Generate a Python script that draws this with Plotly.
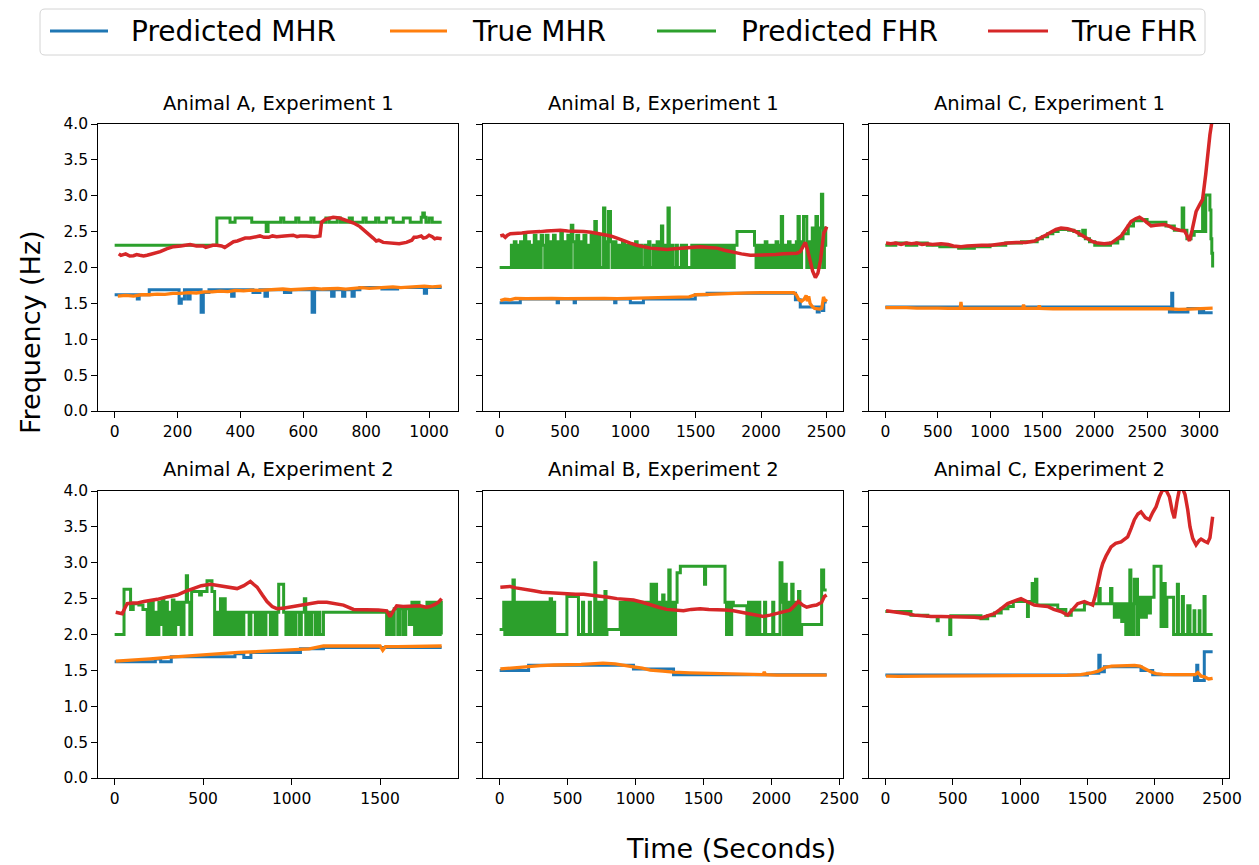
import plotly.graph_objects as go

# ---------------- DATA (time in seconds, frequency in Hz) ----------------
SERIES_NAMES = ["Predicted MHR", "True MHR", "Predicted FHR", "True FHR"]
COLORS = ["#1f77b4", "#ff7f0e", "#2ca02c", "#d62728"]
TITLES = ["Animal A, Experiment 1", "Animal B, Experiment 1", "Animal C, Experiment 1",
          "Animal A, Experiment 2", "Animal B, Experiment 2", "Animal C, Experiment 2"]
Y_TICKS = [0.0, 0.5, 1.0, 1.5, 2.0, 2.5, 3.0, 3.5, 4.0]
X_TICKS = [[0, 200, 400, 600, 800, 1000],
           [0, 500, 1000, 1500, 2000, 2500],
           [0, 500, 1000, 1500, 2000, 2500, 3000],
           [0, 500, 1000, 1500],
           [0, 500, 1000, 1500, 2000, 2500],
           [0, 500, 1000, 1500, 2000, 2500]]

# ---- Animal A, Experiment 1 ----
A1_PRED_MHR = [(0,1.62),(72,1.56),(78,1.62),(110,1.69),(205,1.50),(212,1.56),(222,1.69),(232,1.56),(240,1.69),
               (275,1.375),(282,1.65),(300,1.69),(372,1.60),(380,1.69),(440,1.65),(462,1.69),(478,1.60),(486,1.69),
               (540,1.65),(560,1.69),(628,1.375),(636,1.69),(690,1.60),(698,1.69),(725,1.60),(732,1.69),(755,1.60),
               (762,1.69),(780,1.72),(850,1.70),(900,1.72),(985,1.64),(992,1.72),(1040,1.72)]
A1_TRUE_MHR = [(10,1.60),(35,1.61),(60,1.60),(85,1.62),(110,1.62),(135,1.63),(160,1.625),(185,1.64),(210,1.64),
               (235,1.65),(260,1.645),(285,1.66),(310,1.66),(335,1.67),(360,1.665),(385,1.68),(410,1.675),
               (435,1.685),(460,1.68),(485,1.69),(510,1.69),(535,1.70),(560,1.69),(585,1.70),(610,1.70),
               (635,1.71),(660,1.70),(685,1.71),(710,1.71),(735,1.70),(760,1.71),(785,1.72),(810,1.71),
               (835,1.72),(860,1.72),(885,1.73),(910,1.72),(935,1.73),(960,1.73),(985,1.74),(1010,1.73),(1040,1.74)]
A1_PRED_FHR = [(0,2.31),(325,2.69),(367,2.63),(383,2.69),(436,2.63),(482,2.50),(488,2.63),(528,2.69),(538,2.63),
               (576,2.69),(586,2.63),(624,2.69),(634,2.63),(672,2.69),(682,2.63),(708,2.69),(718,2.63),(746,2.69),
               (756,2.63),(790,2.69),(800,2.63),(830,2.69),(840,2.63),(864,2.69),(886,2.63),(918,2.69),(940,2.63),
               (975,2.70),(980,2.76),(985,2.70),(990,2.63),(1000,2.69),(1010,2.63),(1040,2.63)]
A1_TRUE_FHR = [(13,2.19),(20,2.17),(35,2.19),(48,2.16),(60,2.165),(70,2.18),(80,2.17),(92,2.16),(103,2.17),
               (125,2.19),(145,2.22),(165,2.26),(187,2.29),(210,2.30),(240,2.32),(260,2.30),(282,2.30),(290,2.28),
               (300,2.29),(312,2.31),(325,2.31),(340,2.30),(350,2.28),(357,2.30),(370,2.33),(378,2.36),(390,2.37),
               (404,2.39),(415,2.41),(430,2.41),(445,2.42),(462,2.44),(475,2.42),(490,2.42),(502,2.44),(515,2.43),
               (540,2.44),(568,2.45),(580,2.43),(590,2.44),(610,2.44),(635,2.43),(653,2.44),(658,2.63),(670,2.67),
               (695,2.70),(715,2.69),(737,2.66),(760,2.62),(780,2.57),(800,2.50),(812,2.45),(822,2.41),(832,2.37),
               (840,2.38),(854,2.35),(870,2.34),(886,2.33),(905,2.33),(928,2.35),(945,2.38),(952,2.42),(960,2.42),
               (975,2.44),(982,2.41),(991,2.42),(1000,2.45),(1010,2.43),(1018,2.40),(1025,2.41),(1040,2.40)]

# ---- Animal B, Experiment 1 ----
B1_PRED_MHR = [(0,1.51),(158,1.56),(440,1.51),(450,1.56),(570,1.51),(580,1.56),(880,1.51),(890,1.56),(1000,1.51),
               (1100,1.56),(1497,1.62),(1587,1.64),(2263,1.55),(2300,1.45),(2430,1.38),(2445,1.45),(2470,1.40),
               (2480,1.52),(2502,1.52)]
B1_TRUE_MHR = [(5,1.54),(40,1.56),(80,1.55),(120,1.57),(200,1.565),(300,1.57),(400,1.57),(500,1.565),(600,1.57),
               (700,1.57),(800,1.57),(900,1.565),(1000,1.57),(1100,1.57),(1200,1.575),(1300,1.575),(1400,1.58),
               (1450,1.59),(1480,1.61),(1500,1.62),(1600,1.625),(1700,1.635),(1800,1.64),(1900,1.645),(2000,1.65),
               (2100,1.655),(2200,1.65),(2250,1.65),(2270,1.62),(2290,1.55),(2310,1.53),(2330,1.56),(2345,1.61),
               (2355,1.53),(2365,1.60),(2375,1.50),(2390,1.46),(2410,1.43),(2430,1.42),(2450,1.42),(2465,1.43),
               (2478,1.59),(2490,1.53),(2502,1.56)]
B1_PRED_FHR = [(0,2.0),(90,2.31),(100,2.0),(112,2.36),(125,2.0),(135,2.31),(150,2.0),(160,2.36),(175,2.0),(190,2.45),
               (200,2.0),(215,2.36),(228,2.0),(240,2.31),(255,2.0),(265,2.45),(278,2.0),(290,2.36),(305,2.0),
               (318,2.45),(330,2.31),(345,2.0),(358,2.45),(370,2.0),(385,2.36),(400,2.0),(412,2.45),(425,2.0),
               (440,2.36),(455,2.0),(468,2.50),(480,2.0),(495,2.36),(510,2.0),(522,2.45),(535,2.0),(548,2.59),
               (560,2.36),(575,2.0),(590,2.45),(605,2.0),(618,2.36),(632,2.0),(645,2.45),(660,2.0),(672,2.31),
               (688,2.0),(700,2.45),(712,2.0),(728,2.64),(740,2.0),(755,2.45),(768,2.0),(795,2.83),(805,2.36),
               (818,2.0),(832,2.78),(848,2.36),(860,2.0),(875,2.36),(890,2.0),(905,2.31),(920,2.0),(940,2.36),
               (955,2.0),(975,2.31),(990,2.0),(1005,2.31),(1020,2.0),(1040,2.36),(1052,2.0),(1075,2.31),(1085,2.0),
               (1110,2.31),(1120,2.0),(1140,2.36),(1150,2.0),(1175,2.31),(1185,2.0),(1205,2.36),(1215,2.0),
               (1238,2.58),(1248,2.0),(1262,2.31),(1272,2.0),(1288,2.83),(1298,2.0),(1315,2.31),(1325,2.0),
               (1350,2.31),(1360,2.0),(1390,2.31),(1400,2.0),(1420,2.31),(1430,2.0),(1470,2.31),(1480,2.0),
               (1495,2.31),(1508,2.0),(1520,2.31),(1535,2.0),(1548,2.31),(1560,2.0),(1575,2.31),(1590,2.0),
               (1602,2.31),(1615,2.0),(1630,2.31),(1645,2.0),(1658,2.31),(1672,2.0),(1685,2.31),(1700,2.0),
               (1712,2.31),(1728,2.0),(1742,2.31),(1755,2.0),(1768,2.31),(1782,2.0),(1795,2.31),(1816,2.50),
               (1950,2.31),(1962,2.0),(1975,2.31),(1990,2.0),(2005,2.31),(2018,2.0),(2032,2.36),(2045,2.0),
               (2060,2.31),(2072,2.0),(2088,2.31),(2100,2.0),(2115,2.36),(2128,2.0),(2142,2.31),(2155,2.71),
               (2165,2.0),(2180,2.31),(2195,2.0),(2210,2.36),(2222,2.0),(2240,2.31),(2255,2.0),(2270,2.36),
               (2283,2.71),(2293,2.0),(2310,2.36),(2325,2.71),(2350,2.0),(2365,2.36),(2378,2.0),(2392,2.55),
               (2405,2.0),(2420,2.71),(2432,2.0),(2448,2.55),(2462,3.02),(2472,2.0),(2485,2.31),(2495,2.55),
               (2502,2.55)]
B1_TRUE_FHR = [(5,2.44),(25,2.45),(43,2.42),(60,2.45),(82,2.47),(120,2.47),(170,2.48),(215,2.49),(260,2.49),
               (310,2.50),(360,2.51),(410,2.52),(464,2.52),(520,2.51),(580,2.51),(643,2.50),(700,2.49),(760,2.47),
               (796,2.46),(850,2.44),(898,2.41),(950,2.37),(1000,2.34),(1050,2.31),(1100,2.29),(1153,2.27),
               (1210,2.26),(1281,2.25),(1340,2.26),(1408,2.27),(1470,2.28),(1536,2.29),(1600,2.28),(1663,2.27),
               (1720,2.24),(1791,2.21),(1850,2.19),(1918,2.17),(1980,2.17),(2046,2.17),(2110,2.18),(2173,2.19),
               (2230,2.19),(2275,2.20),(2300,2.22),(2322,2.30),(2339,2.35),(2355,2.25),(2375,2.10),(2395,1.95),
               (2416,1.86),(2435,1.92),(2455,2.10),(2470,2.30),(2480,2.48),(2492,2.52),(2502,2.57)]

# ---- Animal C, Experiment 1 ----
C1_PRED_MHR = [(0,1.45),(2713,1.38),(2735,1.64),(2745,1.38),(2890,1.43),(3000,1.37),(3020,1.43),(3040,1.37),(3126,1.37)]
C1_TRUE_MHR = [(0,1.44),(100,1.445),(200,1.44),(300,1.435),(400,1.44),(500,1.435),(600,1.43),(715,1.43),(722,1.52),
               (730,1.43),(800,1.43),(1000,1.425),(1250,1.43),(1310,1.43),(1320,1.48),(1330,1.43),(1460,1.43),
               (1470,1.47),(1480,1.43),(1600,1.425),(2000,1.43),(2500,1.425),(2700,1.425),(2800,1.415),(2900,1.42),
               (3000,1.425),(3126,1.435)]
C1_PRED_FHR = [(0,2.31),(100,2.34),(200,2.31),(300,2.34),(400,2.31),(520,2.29),(700,2.27),(850,2.29),(1000,2.31),
               (1150,2.34),(1300,2.36),(1450,2.40),(1500,2.43),(1550,2.47),(1600,2.50),(1650,2.53),(1750,2.52),
               (1800,2.50),(1850,2.45),(1885,2.52),(1910,2.40),(1950,2.36),(2000,2.31),(2150,2.34),(2220,2.40),
               (2270,2.47),(2320,2.58),(2370,2.65),(2450,2.67),(2500,2.63),(2600,2.63),(2680,2.58),(2760,2.52),
               (2835,2.83),(2850,2.52),(2880,2.40),(2920,2.45),(2950,2.50),(3030,2.96),(3045,2.50),(3060,3.01),
               (3100,2.80),(3110,2.40),(3118,2.20),(3126,2.00)]
C1_TRUE_FHR = [(6,2.34),(50,2.33),(100,2.34),(150,2.32),(200,2.34),(250,2.33),(300,2.34),(350,2.32),(400,2.33),
               (450,2.32),(532,2.33),(600,2.32),(650,2.30),(723,2.29),(780,2.30),(850,2.31),(920,2.31),(1010,2.31),
               (1100,2.33),(1169,2.34),(1250,2.35),(1340,2.35),(1424,2.37),(1470,2.40),(1519,2.44),(1580,2.49),
               (1630,2.53),(1678,2.55),(1740,2.54),(1806,2.51),(1870,2.45),(1933,2.40),(1980,2.36),(2029,2.34),
               (2090,2.33),(2156,2.34),(2200,2.38),(2252,2.44),(2300,2.54),(2347,2.64),(2390,2.68),(2427,2.70),
               (2470,2.66),(2510,2.61),(2538,2.58),(2580,2.59),(2620,2.60),(2666,2.60),(2720,2.57),(2761,2.54),
               (2810,2.52),(2857,2.51),(2880,2.45),(2905,2.37),(2930,2.52),(2968,2.78),(3000,2.87),(3030,2.95),
               (3060,3.30),(3080,3.60),(3100,3.85),(3126,4.10)]

# ---- Animal A, Experiment 2 ----
A2_PRED_MHR = [(0,1.62),(230,1.66),(260,1.62),(320,1.69),(680,1.73),(730,1.68),(770,1.75),(1050,1.80),(1180,1.82),(1848,1.82)]
A2_TRUE_MHR = [(6,1.63),(100,1.64),(200,1.66),(300,1.68),(400,1.70),(500,1.71),(600,1.73),(700,1.75),(800,1.76),
               (900,1.77),(1000,1.78),(1100,1.80),(1180,1.84),(1300,1.84),(1400,1.84),(1500,1.84),(1515,1.78),
               (1530,1.83),(1600,1.83),(1700,1.83),(1800,1.84),(1848,1.84)]
A2_PRED_FHR = [(0,2.0),(53,2.63),(90,2.35),(105,2.43),(137,2.41),(160,2.35),(184,2.0),(192,2.45),(200,2.0),(210,2.45),
               (218,2.0),(228,2.31),(240,2.0),(250,2.45),(259,2.14),(268,2.50),(278,2.0),(290,2.45),(298,2.0),
               (308,2.31),(316,2.0),(326,2.48),(335,2.0),(345,2.45),(356,2.14),(366,2.45),(376,2.0),(392,2.45),
               (405,2.82),(412,2.45),(425,2.0),(435,2.6),(480,2.55),(490,2.6),(522,2.75),(550,2.6),(565,2.0),
               (575,2.31),(585,2.0),(598,2.5),(606,2.0),(615,2.5),(625,2.0),(635,2.31),(648,2.0),(658,2.31),
               (670,2.0),(680,2.31),(695,2.0),(705,2.31),(720,2.0),(730,2.31),(760,2.0),(770,2.31),(795,2.0),
               (805,2.31),(820,2.0),(830,2.31),(845,2.0),(855,2.31),(880,2.0),(892,2.31),(905,2.0),(917,2.31),
               (927,2.70),(955,2.31),(968,2.0),(978,2.31),(990,2.0),(1000,2.31),(1015,2.0),(1025,2.31),(1045,2.0),
               (1055,2.31),(1072,2.5),(1080,2.0),(1090,2.31),(1105,2.0),(1115,2.31),(1135,2.0),(1145,2.31),
               (1160,2.0),(1180,2.31),(1537,2.0),(1550,2.31),(1565,2.0),(1580,2.36),(1600,2.0),(1612,2.36),
               (1630,2.0),(1645,2.36),(1665,2.14),(1680,2.45),(1695,2.0),(1708,2.45),(1720,2.0),(1735,2.36),
               (1752,2.0),(1765,2.45),(1780,2.0),(1792,2.45),(1805,2.0),(1815,2.45),(1828,2.0),(1840,2.45),
               (1846,2.0),(1848,2.0)]
A2_TRUE_FHR = [(6,2.31),(25,2.30),(43,2.29),(60,2.38),(71,2.43),(100,2.44),(130,2.44),(165,2.46),(200,2.47),
               (241,2.49),(290,2.52),(353,2.55),(400,2.60),(447,2.64),(490,2.68),(541,2.70),(590,2.68),(635,2.67),
               (692,2.64),(730,2.68),(767,2.74),(785,2.70),(805,2.66),(835,2.55),(861,2.46),(890,2.39),(917,2.36),
               (960,2.37),(1011,2.39),(1060,2.41),(1105,2.43),(1150,2.45),(1199,2.45),(1250,2.43),(1293,2.41),
               (1350,2.35),(1400,2.35),(1444,2.35),(1490,2.34),(1538,2.33),(1556,2.25),(1575,2.33),(1594,2.40),
               (1630,2.39),(1669,2.39),(1700,2.40),(1726,2.40),(1760,2.38),(1782,2.39),(1810,2.42),(1830,2.45),
               (1848,2.50)]

# ---- Animal B, Experiment 2 ----
B2_PRED_MHR = [(0,1.50),(213,1.57),(985,1.52),(1280,1.44),(2407,1.44)]
B2_TRUE_MHR = [(5,1.52),(60,1.53),(130,1.54),(213,1.55),(300,1.565),(400,1.575),(495,1.575),(600,1.585),
               (700,1.595),(760,1.60),(850,1.59),(935,1.57),(985,1.55),(1050,1.53),(1108,1.505),(1200,1.49),
               (1280,1.475),(1400,1.465),(1500,1.46),(1600,1.46),(1700,1.455),(1800,1.45),(1900,1.445),
               (1940,1.44),(1948,1.48),(1956,1.44),(2039,1.435),(2150,1.435),(2250,1.435),(2407,1.435)]
B2_PRED_FHR = [(0,2.07),(30,2.45),(38,2.0),(48,2.45),(56,2.0),(68,2.45),(78,2.0),(98,2.76),(108,2.0),(118,2.45),
               (128,2.0),(140,2.45),(150,2.0),(165,2.45),(175,2.0),(190,2.45),(200,2.0),(212,2.45),(222,2.0),
               (240,2.45),(250,2.0),(262,2.45),(272,2.0),(290,2.45),(300,2.0),(315,2.45),(325,2.0),(345,2.45),
               (355,2.0),(372,2.50),(382,2.0),(395,2.45),(405,2.0),(495,2.53),(580,2.0),(610,2.45),(618,2.0),
               (660,2.45),(668,2.0),(700,3.0),(708,2.0),(720,2.45),(730,2.0),(745,2.45),(755,2.0),(775,2.6),
               (783,2.0),(790,2.07),(887,2.45),(897,2.0),(910,2.45),(920,2.0),(932,2.45),(942,2.0),(955,2.45),
               (965,2.0),(978,2.45),(988,2.0),(1000,2.45),(1010,2.0),(1022,2.45),(1032,2.0),(1045,2.45),(1055,2.0),
               (1068,2.45),(1078,2.0),(1090,2.45),(1100,2.0),(1115,2.70),(1125,2.0),(1145,2.70),(1155,2.0),
               (1170,2.45),(1180,2.0),(1200,2.55),(1210,2.0),(1225,2.45),(1235,2.0),(1245,2.90),(1255,2.0),
               (1270,2.45),(1280,2.0),(1295,2.45),(1306,2.86),(1330,2.95),(1508,2.70),(1516,2.95),(1659,2.45),
               (1670,2.0),(1684,2.45),(1694,2.0),(1708,2.45),(1720,2.40),(1820,2.0),(1832,2.45),(1842,2.0),
               (1856,2.45),(1866,2.0),(1880,2.45),(1890,2.0),(1905,2.45),(1915,2.0),(1950,2.45),(1958,2.0),
               (2010,2.45),(2018,2.0),(2064,3.0),(2078,2.45),(2090,2.0),(2100,2.70),(2110,2.0),(2125,2.45),
               (2135,2.0),(2150,2.70),(2160,2.0),(2175,2.45),(2185,2.0),(2200,2.60),(2210,2.0),(2223,2.14),
               (2370,2.9),(2385,2.62),(2407,2.62)]
B2_TRUE_FHR = [(5,2.66),(40,2.66),(78,2.67),(120,2.65),(170,2.63),(250,2.61),(310,2.59),(373,2.58),(430,2.57),
               (495,2.57),(560,2.56),(618,2.56),(680,2.55),(740,2.54),(800,2.52),(863,2.50),(920,2.49),(985,2.48),
               (1050,2.45),(1108,2.41),(1170,2.38),(1230,2.35),(1290,2.34),(1353,2.33),(1410,2.35),(1476,2.36),
               (1540,2.35),(1598,2.35),(1660,2.34),(1721,2.33),(1780,2.31),(1843,2.29),(1900,2.26),(1941,2.25),
               (1990,2.27),(2039,2.29),(2090,2.31),(2137,2.34),(2170,2.40),(2199,2.46),(2230,2.41),(2260,2.38),
               (2300,2.40),(2333,2.41),(2370,2.45),(2390,2.53),(2407,2.55)]

# ---- Animal C, Experiment 2 ----
C2_PRED_MHR = [(0,1.435),(1500,1.46),(1585,1.71),(1595,1.48),(1626,1.55),(1898,1.50),(1985,1.44),(2295,1.36),
               (2312,1.57),(2320,1.36),(2368,1.76),(2430,1.76)]
C2_TRUE_MHR = [(5,1.42),(100,1.415),(300,1.42),(600,1.42),(900,1.42),(1200,1.425),(1350,1.43),(1450,1.44),
               (1520,1.46),(1580,1.49),(1630,1.54),(1680,1.56),(1740,1.565),(1800,1.56),(1850,1.57),(1890,1.56),
               (1930,1.52),(1970,1.48),(2010,1.455),(2060,1.445),(2150,1.44),(2250,1.435),(2300,1.44),(2320,1.47),
               (2345,1.42),(2370,1.41),(2400,1.38),(2430,1.39)]
C2_PRED_FHR = [(0,2.32),(190,2.27),(315,2.25),(385,2.19),(392,2.25),(478,2.0),(486,2.26),(710,2.22),(760,2.26),
               (810,2.30),(860,2.36),(910,2.39),(950,2.46),(1055,2.25),(1062,2.46),(1090,2.71),(1100,2.46),
               (1115,2.77),(1125,2.41),(1280,2.35),(1340,2.27),(1380,2.34),(1478,2.43),(1585,2.64),(1595,2.43),
               (1672,2.64),(1682,2.43),(1700,2.24),(1710,2.43),(1730,2.24),(1740,2.43),(1755,2.18),(1765,2.43),
               (1785,2.0),(1792,2.43),(1800,2.0),(1808,2.43),(1815,2.90),(1823,2.0),(1832,2.43),(1840,2.0),
               (1848,2.77),(1856,2.43),(1865,2.77),(1872,2.0),(1880,2.52),(1900,2.24),(1908,2.52),(1930,2.24),
               (1938,2.52),(1960,2.30),(1968,2.52),(1995,2.95),(2047,2.11),(2060,2.71),(2078,2.11),(2090,2.52),
               (2110,2.52),(2140,2.0),(2168,2.70),(2176,2.0),(2205,2.53),(2213,2.0),(2245,2.40),(2262,2.0),
               (2292,2.33),(2298,2.0),(2330,2.33),(2336,2.0),(2366,2.53),(2374,2.0),(2430,2.0)]
C2_TRUE_FHR = [(5,2.33),(60,2.32),(120,2.30),(166,2.29),(215,2.27),(265,2.26),(340,2.25),(413,2.25),(500,2.25),
               (611,2.25),(660,2.24),(710,2.23),(760,2.26),(809,2.29),(860,2.36),(908,2.43),(960,2.47),(1007,2.50),
               (1050,2.46),(1106,2.41),(1150,2.40),(1205,2.39),(1250,2.35),(1304,2.32),(1354,2.27),(1390,2.35),
               (1428,2.43),(1478,2.46),(1515,2.43),(1539,2.41),(1560,2.55),(1577,2.71),(1600,2.90),(1614,2.99),
               (1640,3.10),(1676,3.22),(1710,3.27),(1750,3.29),(1780,3.33),(1799,3.36),(1825,3.48),(1849,3.60),
               (1875,3.68),(1898,3.71),(1930,3.63),(1960,3.60),(1985,3.70),(2010,3.78),(2035,3.92),(2059,4.02),
               (2085,4.01),(2109,3.92),(2130,3.72),(2146,3.62),(2165,3.85),(2183,4.02),(2208,4.03),(2225,3.95),
               (2245,3.74),(2262,3.50),(2282,3.34),(2307,3.25),(2330,3.31),(2344,3.33),(2370,3.30),(2393,3.28),
               (2410,3.35),(2430,3.64)]

PANELS = [
    (A1_PRED_MHR, A1_TRUE_MHR, A1_PRED_FHR, A1_TRUE_FHR),
    (B1_PRED_MHR, B1_TRUE_MHR, B1_PRED_FHR, B1_TRUE_FHR),
    (C1_PRED_MHR, C1_TRUE_MHR, C1_PRED_FHR, C1_TRUE_FHR),
    (A2_PRED_MHR, A2_TRUE_MHR, A2_PRED_FHR, A2_TRUE_FHR),
    (B2_PRED_MHR, B2_TRUE_MHR, B2_PRED_FHR, B2_TRUE_FHR),
    (C2_PRED_MHR, C2_TRUE_MHR, C2_PRED_FHR, C2_TRUE_FHR),
]

# ---------------- LAYOUT ----------------
W, H = 1259, 865
FONT = "DejaVu Sans"
COL_X = [(98.3, 458.0), (483.3, 843.0), (869.0, 1229.0)]   # pixel spans of plot areas
ROW_Y = [(124.0, 411.0), (491.0, 778.0)]                      # top, bottom (pixels)
STEP = [True, False, True, False]          # predicted series are step lines
WIDTHS = [3.0, 3.3, 3.0, 3.5]

# legend geometry (pixels)
LEG_BOX = (40, 9, 1205, 55)
LEG_LINE_X = [(50, 108), (390, 447), (657, 716), (988, 1048)]
LEG_TEXT_X = [129, 470, 739, 1069]
LEG_Y = 31

def px(x):
    return x / W

def py(y):
    return 1 - y / H

fig = go.Figure()
annotations, shapes = [], []
layout = dict(
    width=W, height=H,
    margin=dict(l=0, r=0, t=0, b=0, autoexpand=False),
    paper_bgcolor="white", plot_bgcolor="white",
    font=dict(family=FONT, color="black"),
    showlegend=False,
)

for i, panel in enumerate(PANELS):
    r, c = divmod(i, 3)
    ax = "" if i == 0 else str(i + 1)
    x0, x1 = COL_X[c]
    yt, yb = ROW_Y[r]
    xmax = max(p[0] for s in panel for p in s)
    for k, series in enumerate(panel):
        fig.add_trace(go.Scatter(
            x=[p[0] for p in series], y=[p[1] for p in series],
            mode="lines", name=SERIES_NAMES[k],
            line=dict(color=COLORS[k], width=WIDTHS[k], shape="hv" if STEP[k] else "linear"),
            xaxis="x" + ax, yaxis="y" + ax,
        ))
    common = dict(showline=True, mirror=True, linecolor="black", linewidth=1.3,
                  ticks="outside", ticklen=6, tickwidth=1.3, tickcolor="black",
                  showgrid=False, zeroline=False, automargin=False,
                  tickfont=dict(family=FONT, size=15.5, color="black"))
    layout["xaxis" + ax] = dict(common, domain=[px(x0), px(x1)], anchor="y" + ax,
                                range=[-0.05 * xmax, 1.05 * xmax],
                                tickmode="array", tickvals=X_TICKS[i],
                                ticktext=[str(v) for v in X_TICKS[i]])
    layout["yaxis" + ax] = dict(common, domain=[py(yb), py(yt)], anchor="x" + ax,
                                range=[0, 4.0], tickmode="array", tickvals=Y_TICKS,
                                ticktext=["%.1f" % v for v in Y_TICKS],
                                showticklabels=(c == 0))
    annotations.append(dict(
        text=TITLES[i], xref="paper", yref="paper",
        x=px((x0 + x1) / 2), y=py(yt - 21), xanchor="center", yanchor="middle",
        showarrow=False, font=dict(family=FONT, size=19.5, color="black")))

annotations.append(dict(
    text="Frequency (Hz)", xref="paper", yref="paper", x=px(30), y=py(332),
    xanchor="center", yanchor="middle", textangle=-90, showarrow=False,
    font=dict(family=FONT, size=27, color="black")))
annotations.append(dict(
    text="Time (Seconds)", xref="paper", yref="paper", x=px(731), y=py(848),
    xanchor="center", yanchor="middle", showarrow=False,
    font=dict(family=FONT, size=27, color="black")))

# legend (matplotlib-style box with handles and labels)
bx0, by0, bx1, by1 = LEG_BOX
rr = 5
path = (f"M {px(bx0 + rr)},{py(by0)} L {px(bx1 - rr)},{py(by0)} "
        f"Q {px(bx1)},{py(by0)} {px(bx1)},{py(by0 + rr)} L {px(bx1)},{py(by1 - rr)} "
        f"Q {px(bx1)},{py(by1)} {px(bx1 - rr)},{py(by1)} L {px(bx0 + rr)},{py(by1)} "
        f"Q {px(bx0)},{py(by1)} {px(bx0)},{py(by1 - rr)} L {px(bx0)},{py(by0 + rr)} "
        f"Q {px(bx0)},{py(by0)} {px(bx0 + rr)},{py(by0)} Z")
shapes.append(dict(type="path", xref="paper", yref="paper", path=path,
                   line=dict(color="#d4d4d4", width=1), fillcolor="white", layer="above"))
for k, name in enumerate(SERIES_NAMES):
    lx0, lx1 = LEG_LINE_X[k]
    shapes.append(dict(type="line", xref="paper", yref="paper",
                       x0=px(lx0), x1=px(lx1), y0=py(LEG_Y), y1=py(LEG_Y),
                       line=dict(color=COLORS[k], width=3), layer="above"))
    annotations.append(dict(text=name, xref="paper", yref="paper",
                            x=px(LEG_TEXT_X[k]), y=py(LEG_Y + 1), xanchor="left", yanchor="middle",
                            showarrow=False, font=dict(family=FONT, size=28, color="black")))

layout["annotations"] = annotations
layout["shapes"] = shapes
fig.update_layout(**layout)
fig.write_html("out.html")
